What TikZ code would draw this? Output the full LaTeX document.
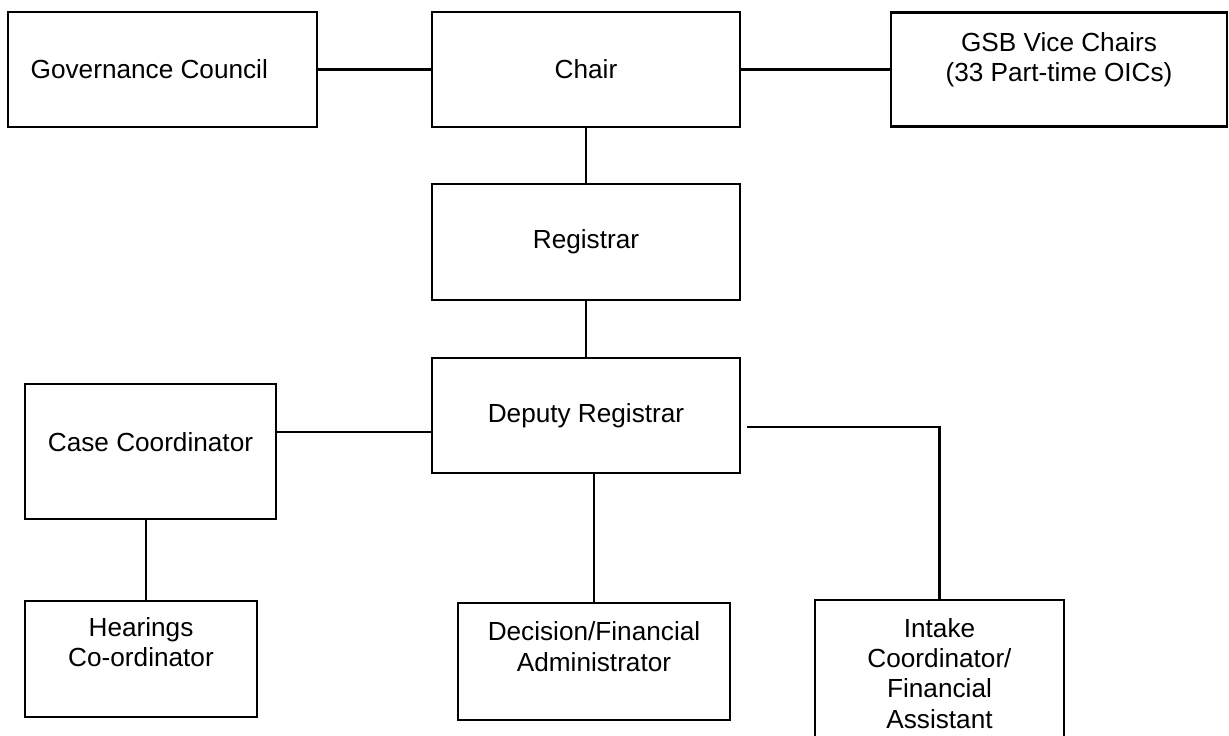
\documentclass[tikz,border=0pt]{standalone}
\usepackage{fontspec}
\setmainfont{Liberation Sans}

\begin{document}
\begin{tikzpicture}[x=0.02cm, y=-0.02cm, line width=1.6pt,
	box/.style={rectangle, draw, inner sep=0pt, align=center, font=\fontsize{14.9}{17.2}\selectfont},
	tag/.style={inner sep=0pt, align=center, font=\fontsize{14.9}{17.2}\selectfont}] % px grid

	\useasboundingbox (0,0) rectangle (1229,736);

	\node [box, minimum width=6.18cm, minimum height=2.30cm,
		label={[tag, xshift=-7.5pt]center:Governance Council}] (gov) at (162.5,69.5) {};
	\node [box, minimum width=6.16cm, minimum height=2.30cm] (chair) at (586,69.5) {Chair};
	\node [box, minimum width=6.72cm, minimum height=2.28cm,
		label={[tag, yshift=5.4pt]center:GSB Vice Chairs\\(33 Part-time OICs)}] (gsb) at (1059,69.5) {};

	\draw (gov) -- (chair);
	\draw (chair) -- (gsb);

	\node [box, minimum width=6.16cm, minimum height=2.32cm] (reg) at (586,242) {Registrar};
	\node [box, minimum width=6.16cm, minimum height=2.30cm] (dep) at (586,415.5) {Deputy Registrar};

	\draw (chair) -- (reg);
	\draw (reg) -- (dep);

	\node [box, minimum width=5.02cm, minimum height=2.70cm,
		label={[tag, yshift=5.4pt]center:Case Coordinator}] (case) at (150.5,451.5) {};
	\node [box, minimum width=4.64cm, minimum height=2.32cm,
		label={[tag, yshift=9.6pt]center:Hearings\\Co-ordinator}] (hear) at (141,659) {};
	\node [box, minimum width=5.44cm, minimum height=2.34cm,
		label={[tag, yshift=8.5pt]center:Decision/Financial\\Administrator}] (dec) at (594,661.5) {};
	\node [box, minimum width=4.98cm, minimum height=2.80cm,
		label={[tag, yshift=-2pt]center:Intake\\Coordinator/\\Financial\\Assistant}] (intake) at (939.5,670) {};

	\coordinate (dep tap) at (747,427);

	\draw (case.east |- 0,432) -- (dep.west |- 0,432);
	\draw (case.south -| 146,0) -- (hear.north -| 146,0);
	\draw (dec.north |- dep.south) -- (dec.north);
	\draw (dep tap) -| (intake.north);

\end{tikzpicture}
\end{document}
